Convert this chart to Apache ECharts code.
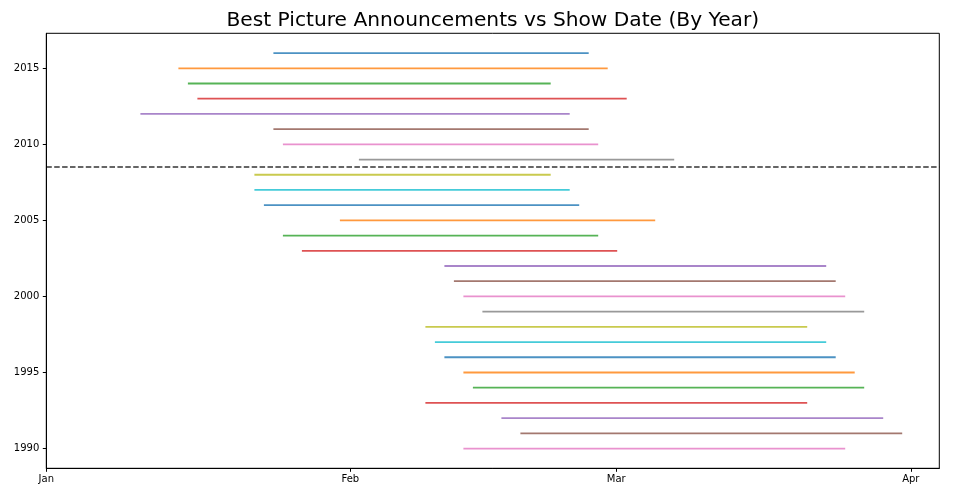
<!DOCTYPE html>
<html>
<head>
<meta charset="utf-8">
<script src="https://cdn.jsdelivr.net/npm/echarts@6/dist/echarts.min.js"></script>
<style>
html,body{margin:0;padding:0;background:#fff;}
#chart{width:973px;height:499px;}
</style>
</head>
<body>
<div id="chart"></div>
<script>
// Years plotted top to bottom (2016 first -> colour cycle starts there)
var years = [2016,2015,2014,2013,2012,2011,2010,2009,2008,2007,2006,2005,2004,2003,2002,2001,2000,1999,1998,1997,1996,1995,1994,1993,1992,1991,1990];
// Day-of-year (x units) of the Best Picture announcement
var announceDay = [24,14,15,16,10,24,25,33,22,22,23,31,25,27,42,43,44,46,40,41,42,44,45,40,48,50,44];
// Day-of-year of the show
var showDay = [57,59,53,61,55,57,58,66,53,55,56,64,58,60,82,83,84,86,80,82,83,85,86,80,88,90,84];
var xTickValues = [0,32,60,91];
var xTickLabels = ['Jan','Feb','Mar','Apr'];
var yTickValues = [1990,1995,2000,2005,2010,2015];
var splitYear = 2008.5;
var titleText = 'Best Picture Announcements vs Show Date (By Year)';
var palette = ['#1f77b4','#ff7f0e','#2ca02c','#d62728','#9467bd','#8c564b','#e377c2','#7f7f7f','#bcbd22','#17becf'];

var chart = echarts.init(document.getElementById('chart'), null, {renderer:'canvas'});
var series = years.map(function(y,i){
  return {
    type:'line',
    data:[[announceDay[i], y],[showDay[i], y]],
    showSymbol:false,
    symbol:'none',
    silent:true,
    lineStyle:{color:palette[i%10], width:1.8, opacity:0.8, cap:'square'},
    z:2
  };
});
series.push({
  type:'line', data:[], silent:true,
  markLine:{
    symbol:['none','none'], silent:true, label:{show:false},
    lineStyle:{color:'#000', opacity:0.8, type:[5.5,2.4], width:1.6},
    data:[{yAxis:splitYear}]
  }
});
var labelFont = {color:'#000', fontSize:10, fontFamily:'DejaVu Sans'};
chart.setOption({
  animation:false,
  backgroundColor:'#fff',
  graphic:[{
    type:'text', x:492.8, y:11, silent:true,
    style:{text:titleText, align:'center', verticalAlign:'top', fontFamily:'DejaVu Sans', fontSize:20.2, fill:'#000'}
  }],
  grid:{left:46.3, right:33.7, top:33.3, bottom:30.7, show:true, borderColor:'#000', borderWidth:1, backgroundColor:'transparent', containLabel:false},
  xAxis:{
    type:'value', min:0, max:94,
    axisLine:{show:true, onZero:false, lineStyle:{color:'#000', width:1}},
    axisTick:{show:true, length:3.5, inside:false, customValues:xTickValues, lineStyle:{color:'#000', width:1}},
    axisLabel:Object.assign({show:true, margin:6, customValues:xTickValues, formatter:function(v){var k=xTickValues.indexOf(v);return k>=0?xTickLabels[k]:'';}}, labelFont),
    splitLine:{show:false}
  },
  yAxis:{
    type:'value', min:1988.7, max:2017.3,
    axisLine:{show:true, onZero:false, lineStyle:{color:'#000', width:1}},
    axisTick:{show:true, length:3.5, customValues:yTickValues, lineStyle:{color:'#000', width:1}},
    axisLabel:Object.assign({show:true, margin:7, customValues:yTickValues, formatter:function(v){return String(v);}}, labelFont),
    splitLine:{show:false}
  },
  series:series
});
</script>
</body>
</html>
